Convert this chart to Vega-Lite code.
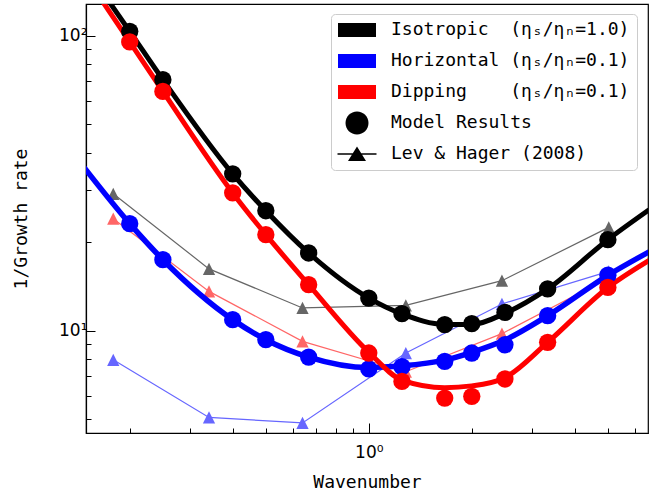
{
  "$schema": "https://vega.github.io/schema/vega-lite/v6.json",
  "width": 562,
  "height": 429,
  "autosize": {"type": "none"},
  "padding": {"left": 86, "top": 4, "right": 12, "bottom": 65},
  "background": "white",
  "config": {
    "view": {"stroke": "#000000", "strokeWidth": 1.2},
    "point": {"opacity": 1},
    "axis": {"grid": false, "domainColor": "#000000", "domainWidth": 1.2, "tickColor": "#000000", "tickWidth": 1, "labelColor": "#000000", "titleColor": "#000000", "labelFont": "DejaVu Sans", "labelFontSize": 17, "titleFont": "DejaVu Sans Mono", "titleFontSize": 18, "titleFontWeight": "normal", "labelOverlap": false, "labelFlush": false}
  },
  "resolve": {"scale": {"fill": "independent", "stroke": "independent"}},
  "datasets": {
    "curves": [
      {"model": "iso", "k": 0.16, "g": 150},
      {"model": "iso", "k": 0.2, "g": 103.4},
      {"model": "iso", "k": 0.25, "g": 70.9},
      {"model": "iso", "k": 0.4, "g": 34},
      {"model": "iso", "k": 0.5, "g": 25.5},
      {"model": "iso", "k": 0.667, "g": 18.34},
      {"model": "iso", "k": 1.0, "g": 12.9},
      {"model": "iso", "k": 1.25, "g": 11.4},
      {"model": "iso", "k": 1.667, "g": 10.5},
      {"model": "iso", "k": 2.0, "g": 10.5},
      {"model": "iso", "k": 2.5, "g": 11.45},
      {"model": "iso", "k": 3.333, "g": 13.85},
      {"model": "iso", "k": 5.0, "g": 20.35},
      {"model": "iso", "k": 6.6, "g": 25.7},
      {"model": "hor", "k": 0.145, "g": 36.5},
      {"model": "hor", "k": 0.2, "g": 23.05},
      {"model": "hor", "k": 0.25, "g": 17.4},
      {"model": "hor", "k": 0.4, "g": 10.9},
      {"model": "hor", "k": 0.5, "g": 9.32},
      {"model": "hor", "k": 0.667, "g": 8.14},
      {"model": "hor", "k": 1.0, "g": 7.5},
      {"model": "hor", "k": 1.25, "g": 7.6},
      {"model": "hor", "k": 1.667, "g": 7.95},
      {"model": "hor", "k": 2.0, "g": 8.45},
      {"model": "hor", "k": 2.5, "g": 9.3},
      {"model": "hor", "k": 3.333, "g": 11.24},
      {"model": "hor", "k": 5.0, "g": 15.4},
      {"model": "hor", "k": 6.6, "g": 18.5},
      {"model": "dip", "k": 0.16, "g": 140},
      {"model": "dip", "k": 0.2, "g": 95.2},
      {"model": "dip", "k": 0.25, "g": 64.7},
      {"model": "dip", "k": 0.4, "g": 29.3},
      {"model": "dip", "k": 0.5, "g": 21.15},
      {"model": "dip", "k": 0.667, "g": 14.32},
      {"model": "dip", "k": 1.0, "g": 8.45},
      {"model": "dip", "k": 1.25, "g": 6.8},
      {"model": "dip", "k": 1.667, "g": 6.41},
      {"model": "dip", "k": 2.0, "g": 6.5},
      {"model": "dip", "k": 2.5, "g": 6.93},
      {"model": "dip", "k": 3.333, "g": 9.13},
      {"model": "dip", "k": 5.0, "g": 14.0},
      {"model": "dip", "k": 6.6, "g": 17.3}
    ],
    "pts": [
      {"model": "iso", "k": 0.2, "g": 103.4},
      {"model": "iso", "k": 0.25, "g": 70.9},
      {"model": "iso", "k": 0.4, "g": 34.0},
      {"model": "iso", "k": 0.5, "g": 25.5},
      {"model": "iso", "k": 0.667, "g": 18.34},
      {"model": "iso", "k": 1.0, "g": 12.9},
      {"model": "iso", "k": 1.25, "g": 11.42},
      {"model": "iso", "k": 1.667, "g": 10.48},
      {"model": "iso", "k": 2.0, "g": 10.56},
      {"model": "iso", "k": 2.5, "g": 11.53},
      {"model": "iso", "k": 3.333, "g": 13.85},
      {"model": "iso", "k": 5.0, "g": 20.35},
      {"model": "hor", "k": 0.2, "g": 23.05},
      {"model": "hor", "k": 0.25, "g": 17.4},
      {"model": "hor", "k": 0.4, "g": 10.9},
      {"model": "hor", "k": 0.5, "g": 9.32},
      {"model": "hor", "k": 0.667, "g": 8.14},
      {"model": "hor", "k": 1.0, "g": 7.42},
      {"model": "hor", "k": 1.25, "g": 7.55},
      {"model": "hor", "k": 1.667, "g": 7.87},
      {"model": "hor", "k": 2.0, "g": 8.4},
      {"model": "hor", "k": 2.5, "g": 8.96},
      {"model": "hor", "k": 3.333, "g": 11.24},
      {"model": "hor", "k": 5.0, "g": 15.42},
      {"model": "dip", "k": 0.2, "g": 95.2},
      {"model": "dip", "k": 0.25, "g": 64.7},
      {"model": "dip", "k": 0.4, "g": 29.3},
      {"model": "dip", "k": 0.5, "g": 21.15},
      {"model": "dip", "k": 0.667, "g": 14.32},
      {"model": "dip", "k": 1.0, "g": 8.4},
      {"model": "dip", "k": 1.25, "g": 6.73},
      {"model": "dip", "k": 1.667, "g": 5.91},
      {"model": "dip", "k": 2.0, "g": 5.99},
      {"model": "dip", "k": 2.5, "g": 6.86},
      {"model": "dip", "k": 3.333, "g": 9.13},
      {"model": "dip", "k": 5.0, "g": 14.02}
    ],
    "lh": [
      {"model": "iso", "k": 0.179, "g": 29.1},
      {"model": "iso", "k": 0.341, "g": 16.2},
      {"model": "iso", "k": 0.64, "g": 11.94},
      {"model": "iso", "k": 1.283, "g": 12.18},
      {"model": "iso", "k": 2.45, "g": 14.77},
      {"model": "iso", "k": 5.03, "g": 22.4},
      {"model": "hor", "k": 0.179, "g": 7.97},
      {"model": "hor", "k": 0.341, "g": 5.08},
      {"model": "hor", "k": 0.64, "g": 4.87},
      {"model": "hor", "k": 1.283, "g": 8.4},
      {"model": "hor", "k": 2.45, "g": 12.32},
      {"model": "hor", "k": 5.03, "g": 15.89},
      {"model": "dip", "k": 0.179, "g": 23.97},
      {"model": "dip", "k": 0.341, "g": 13.59},
      {"model": "dip", "k": 0.64, "g": 9.2},
      {"model": "dip", "k": 1.283, "g": 7.26},
      {"model": "dip", "k": 2.45, "g": 9.77},
      {"model": "dip", "k": 5.03, "g": 15.12}
    ],
    "leg": [
      {"key": "Isotropic\u00a0\u00a0(ηₛ/ηₙ=1.0)"},
      {"key": "Horizontal\u00a0(ηₛ/ηₙ=0.1)"},
      {"key": "Dipping\u00a0\u00a0\u00a0\u00a0(ηₛ/ηₙ=0.1)"},
      {"key": "Model Results"},
      {"key": "Lev & Hager (2008)"}
    ]
  },
  "encoding": {
    "x": {
      "field": "k", "type": "quantitative",
      "scale": {"type": "log", "domain": [0.149, 6.55], "nice": false, "zero": false},
      "axis": {
        "title": "Wavenumber",
        "values": [0.2, 0.3, 0.4, 0.5, 0.6, 0.7, 0.8, 0.9, 1, 2, 3, 4, 5, 6],
        "labelExpr": "datum.value == 1 ? '10⁰' : ''",
        "tickSize": {"condition": {"test": "datum.value == 1", "value": -10}, "value": -5},
        "labelPadding": 21,
        "titleY": 49,
        "titleBaseline": "middle"
      }
    },
    "y": {
      "field": "g", "type": "quantitative",
      "scale": {"type": "log", "domain": [4.5, 128], "nice": false, "zero": false},
      "axis": {
        "title": "1/Growth rate",
        "values": [5, 6, 7, 8, 9, 10, 20, 30, 40, 50, 60, 70, 80, 90, 100],
        "labelExpr": "datum.value == 10 ? '10¹' : datum.value == 100 ? '10²' : ''",
        "tickSize": {"condition": {"test": "datum.value == 10 || datum.value == 100", "value": -9}, "value": -5},
        "labelPadding": 8,
        "titleX": -64.5,
        "titleBaseline": "middle"
      }
    }
  },
  "layer": [
    {
      "data": {"name": "lh"},
      "mark": {"type": "line", "strokeWidth": 1.2, "clip": true},
      "encoding": {
        "stroke": {"field": "model", "type": "nominal", "scale": {"domain": ["iso", "hor", "dip"], "range": ["#666666", "#6666ff", "#ff6666"]}, "legend": null}
      }
    },
    {
      "data": {"name": "lh"},
      "mark": {"type": "point", "filled": true, "shape": "M0,-1L1,1L-1,1Z", "size": 150, "opacity": 1, "fillOpacity": 1, "clip": true},
      "encoding": {
        "fill": {"field": "model", "type": "nominal", "scale": {"domain": ["iso", "hor", "dip"], "range": ["#666666", "#6666ff", "#ff6666"]}, "legend": null}
      }
    },
    {
      "data": {"name": "curves"},
      "transform": [{"filter": "datum.model == 'iso'"}],
      "mark": {"type": "line", "strokeWidth": 5, "color": "#000000", "interpolate": "monotone", "clip": true},
      "encoding": {}
    },
    {
      "data": {"name": "curves"},
      "transform": [{"filter": "datum.model == 'hor'"}],
      "mark": {"type": "line", "strokeWidth": 5.5, "color": "#0000ff", "interpolate": "monotone", "clip": true},
      "encoding": {}
    },
    {
      "data": {"name": "curves"},
      "transform": [{"filter": "datum.model == 'dip'"}],
      "mark": {"type": "line", "strokeWidth": 5, "color": "#ff0000", "interpolate": "monotone", "clip": true},
      "encoding": {}
    },
    {
      "data": {"name": "pts"},
      "mark": {"type": "point", "filled": true, "shape": "circle", "size": 300, "opacity": 1, "fillOpacity": 1, "clip": true},
      "encoding": {
        "fill": {"field": "model", "type": "nominal", "scale": {"domain": ["iso", "hor", "dip"], "range": ["#000000", "#0000ff", "#ff0000"]}, "legend": null}
      }
    },
    {
      "data": {"name": "leg"},
      "transform": [{"filter": "datum.key == 'none'"}],
      "mark": {"type": "point", "filled": true, "opacity": 1},
      "encoding": {
        "color": {
          "field": "key", "type": "nominal",
          "scale": {
            "domain": ["Isotropic\u00a0\u00a0(ηₛ/ηₙ=1.0)", "Horizontal\u00a0(ηₛ/ηₙ=0.1)", "Dipping\u00a0\u00a0\u00a0\u00a0(ηₛ/ηₙ=0.1)", "Model Results", "Lev & Hager (2008)"],
            "range": ["#000000", "#0000ff", "#ff0000", "#000000", "#000000"]
          },
          "legend": {
            "title": null,
            "orient": "none",
            "legendX": 245,
            "legendY": 10,
            "fillColor": "rgba(255,255,255,0.8)",
            "strokeColor": "#cccccc",
            "cornerRadius": 4,
            "padding": 7,
            "symbolSize": 100,
            "symbolOffset": 10,
            "symbolStrokeWidth": 0,
            "labelOffset": 25,
            "labelFont": "DejaVu Sans Mono",
            "labelFontSize": 18,
            "labelColor": "#000000",
            "labelLimit": 600,
            "gridAlign": "all",
            "rowPadding": 7,
            "symbolOpacity": 1
          }
        },
        "shape": {
          "field": "key", "type": "nominal",
          "scale": {
            "domain": ["Isotropic\u00a0\u00a0(ηₛ/ηₙ=1.0)", "Horizontal\u00a0(ηₛ/ηₙ=0.1)", "Dipping\u00a0\u00a0\u00a0\u00a0(ηₛ/ηₙ=0.1)", "Model Results", "Lev & Hager (2008)"],
            "range": [
              "M-3.8,-1.4H3.8V1.4H-3.8Z",
              "M-3.8,-1.4H3.8V1.4H-3.8Z",
              "M-3.8,-1.4H3.8V1.4H-3.8Z",
              "M2.3,0A2.3,2.3,0,1,1,-2.3,0A2.3,2.3,0,1,1,2.3,0Z",
              "M-3.9,-0.13H3.9V0.13H-3.9Z M0,-1.5L1.8,1.4H-1.8Z"
            ]
          }
        }
      }
    }
  ]
}
